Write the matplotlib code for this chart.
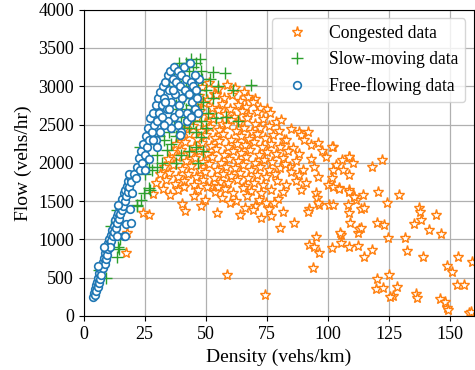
import matplotlib
matplotlib.use("Agg")
import matplotlib.pyplot as plt
import numpy as np

# density (vehs/km), flow (vehs/hr) pairs
free_flowing = np.array([
    (4.0, 250), (4.3, 300), (4.5, 350), (4.8, 280), (5.0, 400), (5.2, 330), (5.5, 450), (5.8, 380),
    (6.0, 500), (6.3, 430), (6.5, 560), (6.8, 480), (7.0, 600), (7.3, 540), (7.5, 650), (7.8, 700),
    (8.0, 620), (8.3, 760), (8.6, 680), (8.8, 820), (9.0, 740), (9.3, 880), (9.6, 800), (9.9, 950),
    (10.2, 870), (10.5, 1000), (10.8, 920), (11.1, 1060), (11.4, 980), (11.7, 1120), (12.0, 1050),
    (12.3, 1180), (12.6, 1100), (12.9, 1250), (13.2, 1150), (13.5, 1300), (13.8, 1220), (14.1, 1350),
    (14.4, 1270), (14.7, 1420), (15.0, 1330), (15.3, 1470), (15.6, 1380), (15.9, 1530), (16.2, 1440),
    (16.5, 1600), (16.8, 1500), (17.1, 1650), (17.4, 1560), (17.7, 1700), (18.0, 1620), (18.3, 1760),
    (18.6, 1680), (18.9, 1820), (19.3, 1750), (16.5, 1050), (17.5, 1200), (19.0, 1400), (13.5, 1050),
    (11.0, 900), (6.0, 650), (8.5, 900), (14.0, 1450), (18.5, 1850), (20.0, 1600), (19.3, 1210),
    (17.0, 1040),
    (20.5, 1850), (21.5, 1800), (22.0, 1950), (22.5, 2060), (23.0, 1900), (23.5, 2150), (24.0, 2000),
    (24.5, 2250), (25.0, 2100), (25.5, 2350), (26.0, 2200), (26.5, 2450), (27.0, 2300), (27.4, 2580),
    (28.0, 2400), (28.5, 2650), (29.0, 2500), (29.5, 2750), (30.0, 2550), (30.5, 2850), (31.0, 2650),
    (31.5, 2920), (32.0, 2750), (32.5, 3000), (33.0, 2850), (33.5, 3050), (34.0, 2700), (34.5, 3150),
    (35.0, 2950), (35.5, 3200), (36.0, 2800), (36.5, 3100), (37.0, 3250), (37.5, 2900), (38.0, 3050),
    (38.5, 3200), (39.0, 2750), (39.5, 3000), (40.0, 3150), (40.5, 2850), (41.0, 3250), (41.5, 2950),
    (42.0, 3100), (42.5, 2650), (43.0, 2900), (43.8, 3300), (44.0, 3050), (44.5, 2800), (45.0, 3000),
    (45.5, 2700), (46.0, 2950), (46.5, 2850), (47.2, 3090), (47.0, 2650), (37.0, 2600), (38.5, 2500),
    (40.0, 2400), (39.4, 2360), (36.0, 2450), (34.5, 2550), (33.0, 2500), (31.5, 2400), (29.5, 2300),
    (42.5, 2550), (44.0, 2600), (39.0, 2650), (35.0, 2700), (32.0, 2600), (30.0, 2200), (27.0, 2050),
    (25.0, 1900), (45.5, 3150), (33.5, 2800), (36.5, 2950), (28.5, 2300),
])

slow_moving = np.array([
    (6.3, 600), (9.1, 490), (11.1, 1170), (13.6, 770), (14.2, 900), (14.5, 880), (13.8, 1380),
    (15.0, 1000), (22.0, 1450), (21.7, 1430), (23.4, 1510), (24.7, 1600), (26.8, 1670), (27.2, 1650),
    (23.0, 2210), (27.0, 1950), (34.0, 2170), (25.0, 1850), (28.0, 1900), (30.0, 1950), (30.0, 2100),
    (32.0, 2000), (26.0, 2050), (29.0, 2250), (31.0, 2350), (33.0, 2300), (35.0, 2400), (36.0, 2250),
    (37.0, 2550), (38.0, 2350), (39.0, 2450), (40.0, 2600), (41.0, 2500), (42.0, 2700), (43.0, 2450),
    (44.0, 2750), (45.0, 2550), (46.0, 2400), (47.0, 2700), (48.0, 2550), (46.0, 2900), (47.0, 3050),
    (48.0, 3200), (45.0, 3250), (44.0, 3350), (46.0, 3300), (47.5, 3350), (43.0, 3200), (42.0, 3300),
    (48.5, 3100), (45.0, 2950), (44.0, 2850), (41.0, 2850), (38.0, 2750), (36.0, 2700), (35.0, 3000),
    (37.0, 3100), (40.0, 3000), (39.0, 3300), (42.0, 3000), (48.3, 2340), (49.0, 2150), (50.0, 2450),
    (53.0, 2840), (54.4, 2580), (58.5, 2600), (63.2, 2550), (53.0, 3190), (57.8, 3170), (61.2, 2950),
    (68.7, 3015), (50.0, 2950), (52.0, 3100), (55.0, 3000), (49.0, 2800), (46.0, 2200), (43.0, 2150),
    (40.0, 2100), (38.0, 2000), (51.0, 2650), (47.0, 2000),
])

congested = np.array([
    (48.5, 2990), (51.5, 3040), (55.2, 2960), (58.7, 3010), (62.1, 2980), (65.8, 2930), (53.5, 2900),
    (47.2, 2870), (50.6, 2820), (54.3, 2880), (57.5, 2840), (60.8, 2890), (64.2, 2810), (67.5, 2860),
    (70.1, 2830), (75.0, 2700),
    (46.1, 2740), (49.4, 2780), (52.8, 2720), (56.6, 2770), (59.9, 2700), (63.3, 2760), (66.4, 2730),
    (69.4, 2790), (72.3, 2710),
    (44.3, 2630), (47.8, 2670), (51.2, 2610), (54.9, 2690), (58.1, 2640), (61.7, 2600), (64.9, 2680),
    (67.3, 2620), (71.2, 2660), (76.2, 2650),
    (42.8, 2540), (46.3, 2580), (49.7, 2520), (53.1, 2570), (56.8, 2510), (60.2, 2560), (63.6, 2530),
    (66.9, 2590), (70.4, 2510), (73.5, 2570), (78.9, 2536), (81.0, 2558),
    (41.2, 2440), (44.7, 2480), (48.1, 2410), (51.6, 2470), (55.3, 2430), (58.8, 2490), (62.4, 2420),
    (65.7, 2460), (68.9, 2400), (72.1, 2450), (75.8, 2480), (80.2, 2420), (85.1, 2440), (88.4, 2405),
    (91.8, 2405),
    (39.6, 2340), (43.2, 2370), (46.6, 2310), (50.2, 2360), (53.7, 2320), (57.1, 2380), (60.6, 2300),
    (64.3, 2350), (67.6, 2310), (71.0, 2370), (74.4, 2330), (77.8, 2360), (82.3, 2300), (89.1, 2362),
    (90.5, 2297), (95.9, 2254), (102.0, 2209),
    (37.8, 2240), (41.6, 2270), (45.1, 2210), (48.7, 2260), (52.2, 2220), (55.6, 2280), (59.1, 2200),
    (62.7, 2250), (66.2, 2230), (69.8, 2270), (73.1, 2200), (76.7, 2240), (80.6, 2210), (83.0, 2297),
    (85.7, 2188), (93.0, 2230), (105.9, 2036),
    (36.2, 2140), (39.8, 2170), (43.5, 2110), (47.1, 2160), (50.6, 2120), (54.1, 2180), (57.6, 2100),
    (61.2, 2150), (64.6, 2130), (68.3, 2170), (71.7, 2100), (75.2, 2140), (78.8, 2110), (83.9, 2160),
    (88.2, 2120), (97.5, 2150), (108.9, 2079),
    (34.6, 2050), (38.3, 2070), (41.9, 2020), (45.6, 2060), (49.1, 2010), (52.7, 2080), (56.2, 2000),
    (59.6, 2050), (63.1, 2030), (66.7, 2070), (70.3, 2000), (73.8, 2040), (77.4, 2010), (81.7, 2060),
    (87.0, 2030), (99.2, 2070), (103.4, 1970), (122.2, 2036), (110.5, 2000),
    (33.1, 1950), (36.8, 1970), (40.4, 1920), (44.0, 1960), (47.6, 1910), (51.2, 1980), (54.8, 1900),
    (58.3, 1950), (61.9, 1930), (65.3, 1970), (68.8, 1900), (72.4, 1940), (76.1, 1910), (80.3, 1927),
    (84.6, 1950), (94.6, 1948), (102.0, 1905), (106.1, 1905), (118.0, 1950),
    (31.2, 1850), (35.0, 1870), (38.7, 1820), (42.6, 1860), (46.2, 1810), (49.8, 1880), (53.4, 1800),
    (57.0, 1850), (60.5, 1830), (64.1, 1870), (67.4, 1800), (70.9, 1840), (74.7, 1810), (78.3, 1860),
    (88.4, 1840), (101.8, 1797), (108.9, 1840), (96.0, 1820),
    (29.8, 1740), (33.7, 1770), (37.5, 1720), (41.3, 1760), (45.2, 1710), (48.9, 1780), (52.3, 1700),
    (55.9, 1750), (59.3, 1730), (62.8, 1770), (66.2, 1700), (69.9, 1740), (73.6, 1710), (79.2, 1760),
    (83.0, 1710), (91.2, 1732), (100.0, 1710), (104.8, 1666), (108.9, 1644), (95.3, 1601),
    (28.3, 1592), (32.6, 1660), (38.7, 1644), (41.0, 1690), (46.8, 1640), (50.7, 1680), (54.0, 1620),
    (55.0, 1687), (57.8, 1660), (61.4, 1610), (65.2, 1670), (68.6, 1630), (72.5, 1600), (76.8, 1650),
    (81.9, 1620), (102.0, 1688), (108.6, 1622), (114.3, 1579), (120.8, 1622), (129.3, 1579),
    (35.3, 1579), (45.1, 1560), (49.8, 1510), (56.9, 1540), (62.3, 1500), (67.0, 1560), (71.9, 1520),
    (74.8, 1480), (79.6, 1530), (95.5, 1536), (110.9, 1557), (111.6, 1514),
    (40.2, 1460), (48.0, 1430), (59.8, 1470), (66.1, 1410), (70.3, 1440), (76.0, 1400), (78.2, 1470),
    (92.3, 1400), (96.6, 1449), (100.7, 1449), (108.2, 1449), (113.6, 1392), (115.0, 1405),
    (124.5, 1471), (137.5, 1405), (95.9, 1471), (102.0, 1449),
    (41.5, 1374), (54.8, 1340), (63.9, 1318), (69.4, 1383), (72.8, 1275), (76.9, 1305), (81.6, 1361),
    (91.8, 1361), (108.6, 1348), (137.7, 1353), (144.3, 1318), (86.1, 1218), (80.3, 1144),
    (24.4, 1340), (26.9, 1318), (82.5, 1990), (85.0, 1880), (87.0, 1760), (90.0, 1900), (93.0, 2050),
    (89.0, 1650),
    (17.6, 1080), (17.4, 826), (58.9, 535), (74.2, 274), (92.5, 926), (95.3, 1035), (94.6, 904),
    (96.3, 818), (94.2, 622), (101.8, 883), (105.5, 1057), (105.2, 1079), (105.5, 957), (108.9, 904),
    (112.3, 913), (115.0, 774), (118.1, 861), (109.1, 1210), (112.3, 1079), (112.7, 1131),
    (113.6, 1144), (120.4, 1210), (123.2, 1188), (124.9, 1014), (131.6, 1014), (132.7, 848),
    (139.1, 766), (135.4, 1200), (138.2, 1253), (141.5, 1122), (146.3, 1070), (153.5, 774),
    (149.0, 652), (150.8, 578), (159.0, 709), (120.4, 479), (119.8, 348), (122.5, 361), (125.2, 535),
    (126.6, 261), (128.6, 374), (136.1, 287), (136.8, 231), (146.0, 218), (148.1, 187), (149.0, 100),
    (153.1, 405), (155.8, 405), (157.9, 39), (158.6, 56), (125.6, 244), (149.4, 78),
    (101.8, 2209), (108.9, 2079), (104.8, 1653), (110.9, 1557),
])

series_labels = ['Congested data', 'Slow-moving data', 'Free-flowing data']
x_ticks = [0, 25, 50, 75, 100, 125, 150]
y_ticks = [0, 500, 1000, 1500, 2000, 2500, 3000, 3500, 4000]

plt.rcParams['font.family'] = ['Liberation Serif', 'DejaVu Serif']

fig = plt.figure(figsize=(4.75, 3.7), dpi=100)
ax = fig.add_axes([0.176, 0.146, 0.822, 0.828])
ax.set_axisbelow(True)
ax.grid(True, color='#b0b0b0', linewidth=0.9)

ax.plot(congested[:, 0], congested[:, 1], linestyle='none', marker='*', markersize=8,
        markerfacecolor='white', markeredgecolor='#ff7f0e', markeredgewidth=1.0, label=series_labels[0])
ax.plot(slow_moving[:, 0], slow_moving[:, 1], linestyle='none', marker='+', markersize=8,
        color='#2ca02c', markeredgewidth=1.0, label=series_labels[1])
ax.plot(free_flowing[:, 0], free_flowing[:, 1], linestyle='none', marker='o', markersize=5.5,
        markerfacecolor='white', markeredgecolor='#1f77b4', markeredgewidth=1.2, label=series_labels[2])

ax.set_xlim(0, 160)
ax.set_ylim(0, 4000)
ax.set_xticks(x_ticks)
ax.set_yticks(y_ticks)
ax.tick_params(labelsize=13)
ax.set_xlabel('Density (vehs/km)', fontsize=14)
ax.set_ylabel('Flow (vehs/hr)', fontsize=14)
ax.legend(loc='upper right', fontsize=12.7)

fig.savefig('out.png', dpi=100)
